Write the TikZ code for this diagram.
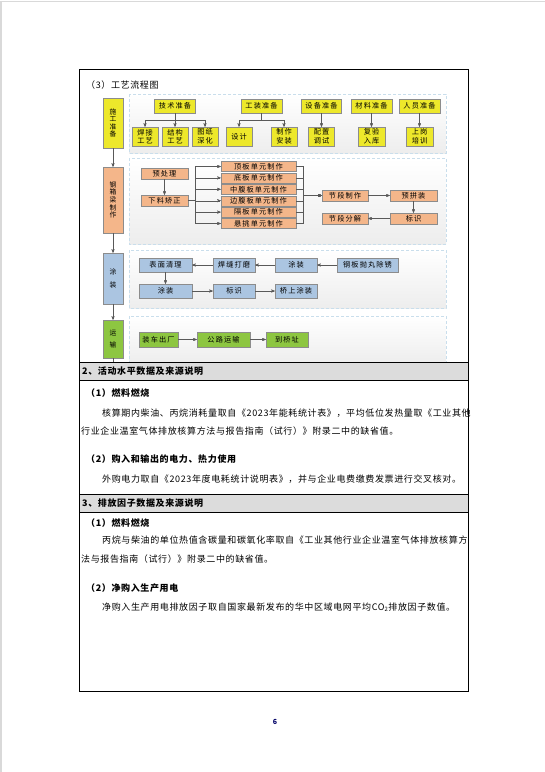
\documentclass[tikz,border=0pt]{standalone}
\usepackage{fontspec}
\setmainfont{Noto Sans CJK SC}[LetterSpace=7]
\newfontfamily\flowfont{Noto Sans CJK SC}[LetterSpace=15]
\usepackage{tikz}
\usetikzlibrary{%
   arrows,%
   positioning,%
   backgrounds}

\definecolor{prepyellow}{HTML}{EDE82B}
\definecolor{makeorange}{HTML}{F4B68A}
\definecolor{coatblue}{HTML}{ABC5E1}
\definecolor{shipgreen}{HTML}{8DC641}
\definecolor{panelblue}{HTML}{C9DEEC}
\definecolor{pagegray}{HTML}{DCDCDC}

\begin{document}
\begin{tikzpicture}
  [x=1pt,y=-1pt,>=stealth',
  every node/.style={inner sep=0pt},
  box/.style={draw=black!45,line width=.4pt,align=center,
    font=\flowfont\fontsize{7.2}{8.6}\selectfont},
  yellow box/.style={box,fill=prepyellow},
  orange box/.style={box,fill=makeorange},
  blue box/.style={box,fill=coatblue},
  green box/.style={box,fill=shipgreen},
  side/.style={minimum width=20pt,font=\flowfont\fontsize{6.8}{7.6}\selectfont},
  prep/.style={yellow box,minimum width=41pt,minimum height=14pt},
  task/.style={yellow box,minimum width=26pt,minimum height=19pt},
  seg/.style={orange box,minimum width=47pt,minimum height=11pt},
  unit/.style={orange box,minimum width=75pt,minimum height=10pt},
  coat/.style={blue box,minimum width=42pt,minimum height=14pt},
  ship/.style={green box,minimum height=15pt},
  flow/.style={->,draw=black!65,line width=.4pt},
  panel/.style={draw=panelblue,densely dashed,line width=.5pt,
    top color=white,bottom color=black!7},
  txt/.style={anchor=west,font=\fontsize{9}{11}\selectfont},
  head/.style={anchor=west,font=\bfseries\fontsize{9}{11}\selectfont}]
  \useasboundingbox (0,0) rectangle (545,772);
  \draw [black!15,line width=1.5pt] (1,772) -- (1,1.5) -- (545,1.5);

  \node [txt] (cap) at (86,85) {（3）工艺流程图};

  % left column
  \node [yellow box,side,minimum height=50pt] (s1) at (113,123) {施\\工\\准\\备};
  \node [orange box,side,minimum height=66pt] (s2) at (113,200) {钢\\箱\\梁\\制\\作};
  \node [blue box,side,minimum height=51pt] (s3) at (113,278.5) {涂\\[6pt]装};
  \node [green box,side,minimum height=38pt] (s4) at (113,339) {运\\[5pt]输};
  \coordinate (s5) at (113,362);
  \draw [flow] (s1) -- (s2);
  \draw [flow] (s2) -- (s3);
  \draw [flow] (s3) -- (s4);
  \draw [black!65,line width=.4pt] (s4) -- (s5);

  % preparation
  \node [prep] (p1) at (175,106) {技术准备};
  \node [prep] (p2) at (261.5,106) {工装准备};
  \node [prep,minimum width=40pt] (p3) at (321.5,106) {设备准备};
  \node [prep] (p4) at (371.5,106) {材料准备};
  \node [prep] (p5) at (419.5,106) {人员准备};
  \node [task] (t1) at (145,136.5) {焊接\\工艺};
  \node [task] (t2) at (175,136.5) {结构\\工艺};
  \node [task] (t3) at (205,136.5) {图纸\\深化};
  \node [task] (t4) at (239,136.5) {设计};
  \node [task] (t5) at (284,136.5) {制作\\安装};
  \node [task] (t6) at (321.5,136.5) {配置\\调试};
  \node [task,minimum width=27pt] (t7) at (371.5,136.5) {复验\\入库};
  \node [task,minimum width=27pt] (t8) at (419.5,136.5) {上岗\\培训};
  \draw [flow] (p1.south) -- ++(0,7) -| (t1.north);
  \draw [flow] (p1.south) -- (t2.north);
  \draw [flow] (p1.south) -- ++(0,7) -| (t3.north);
  \draw [flow] (p2.south) -- ++(0,7) -| (t4.north);
  \draw [flow] (p2.south) -- ++(0,7) -| (t5.north);
  \draw [flow] (p3) -- (t6);
  \draw [flow] (p4) -- (t7);
  \draw [flow] (p5) -- (t8);

  % steel box girder
  \node [seg] (a1) at (164.5,173.5) {预处理};
  \node [seg] (a2) at (164.5,200.5) {下料矫正};
  \node [seg,minimum width=46pt] (b1) at (345,195.5) {节段制作};
  \node [seg] (b2) at (413.5,195.5) {预拼装};
  \node [seg] (b3) at (413.5,218.5) {标识};
  \node [seg,minimum width=46pt] (b4) at (345,218.5) {节段分解};
  \foreach \t [count=\i] in {顶板单元制作,底板单元制作,中腹板单元制作,
      边腹板单元制作,隔板单元制作,悬挑单元制作}
    \node [unit] (u\i) at (258.5,{155.1+11.4*\i}) {\t};
  \draw [flow] (a1) -- (a2);
  \foreach \i in {1,...,6} {
    \draw [flow] (a2.east) -- ++(7,0) |- (u\i.west);
    \draw [flow] (u\i.east) -- ++(7,0) |- (b1.west);
  }
  \draw [flow] (b1) -- (b2);
  \draw [flow] (b2) -- (b3);
  \draw [flow] (b3) -- (b4);

  % coating
  \node [coat,minimum width=53pt] (c1) at (165.5,265) {表面清理};
  \node [coat] (c2) at (234,265) {焊缝打磨};
  \node [coat] (c3) at (296,265) {涂装};
  \node [coat,minimum width=61pt] (c4) at (367.5,265) {钢板抛丸除锈};
  \node [coat,minimum width=53pt] (d1) at (165.5,291) {涂装};
  \node [coat] (d2) at (234,291) {标识};
  \node [coat] (d3) at (296,291) {桥上涂装};
  \draw [flow] (c4) -- (c3);
  \draw [flow] (c3) -- (c2);
  \draw [flow] (c2) -- (c1);
  \draw [flow] (c1) -- (d1);
  \draw [flow] (d1) -- (d2);
  \draw [flow] (d2) -- (d3);

  % transport
  \node [ship,minimum width=39pt] (r1) at (158.5,339.5) {装车出厂};
  \node [ship,minimum width=53pt] (r2) at (223.5,339.5) {公路运输};
  \node [ship,minimum width=42pt] (r3) at (287,339.5) {到桥址};
  \draw [flow] (r1) -- (r2);
  \draw [flow] (r2) -- (r3);

  \begin{pgfonlayer}{background}
    \path [panel] (129,94) rectangle (446,153);
    \path [panel] (129,158) rectangle (446,244);
    \path [panel] (129,250) rectangle (446,308);
    \path [panel] (129,316) rectangle (446,364);
  \end{pgfonlayer}

  % table rows
  \fill [pagegray] (79,362) rectangle (468,380);
  \fill [pagegray] (79,494) rectangle (468,512);
  \draw [line width=.8pt] (79,362) -- (468,362) (79,380) -- (468,380)
    (79,494) -- (468,494) (79,512) -- (468,512);
  \draw [line width=.9pt] (79,69.5) rectangle (468,691);

  \node [head] (h1) at (82,371) {2、活动水平数据及来源说明};
  \node [head] (h1a) at (86,393) {（1）燃料燃烧};
  \node [txt] (l1) at (102,413) {核算期内柴油、丙烷消耗量取自《2023年能耗统计表》，平均低位发热量取《工业其他};
  \node [txt] (l2) at (81,431) {行业企业温室气体排放核算方法与报告指南（试行）》附录二中的缺省值。};
  \node [head] (h1b) at (86,459) {（2）购入和输出的电力、热力使用};
  \node [txt] (l3) at (102,479) {外购电力取自《2023年度电耗统计说明表》，并与企业电费缴费发票进行交叉核对。};

  \node [head] (h2) at (82,503) {3、排放因子数据及来源说明};
  \node [head] (h2a) at (86,523) {（1）燃料燃烧};
  \node [txt] (l4) at (102,540) {丙烷与柴油的单位热值含碳量和碳氧化率取自《工业其他行业企业温室气体排放核算方};
  \node [txt] (l5) at (81,559) {法与报告指南（试行）》附录二中的缺省值。};
  \node [head] (h2b) at (86,588) {（2）净购入生产用电};
  \node [txt] (l6) at (102,607) {净购入生产用电排放因子取自国家最新发布的华中区域电网平均CO\textsubscript{2}排放因子数值。};

  \node [font=\bfseries\fontsize{7}{8}\selectfont,text=black!60!blue] (pg) at (275,722) {6};
\end{tikzpicture}
\end{document}
